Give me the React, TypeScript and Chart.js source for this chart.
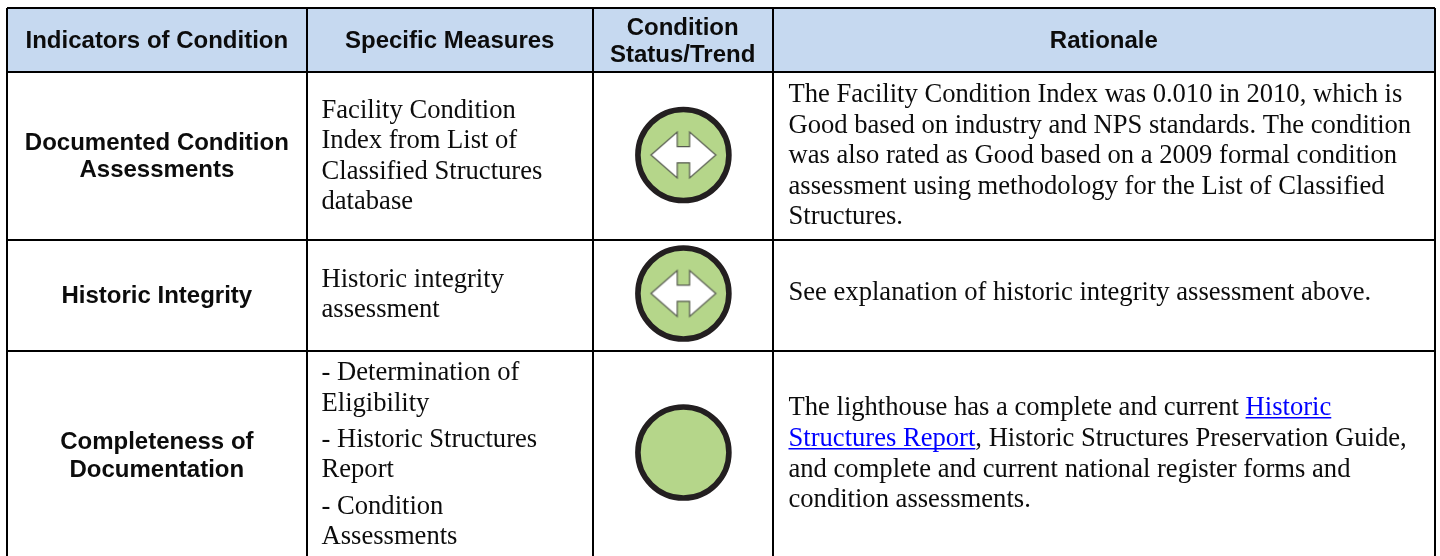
import React, { useEffect, useRef } from "react";
import { Chart, registerables } from "chart.js";

Chart.register(...registerables);

type Run = { t: string; link?: boolean };

const headers: string[][] = [
  ["Indicators of Condition"],
  ["Specific Measures"],
  ["Condition", "Status/Trend"],
  ["Rationale"],
];
const indicators: string[][] = [
  ["Documented Condition", "Assessments"],
  ["Historic Integrity"],
  ["Completeness of", "Documentation"],
];
const measures: string[][] = [
  ["Facility Condition", "Index from List of", "Classified Structures", "database"],
  ["Historic integrity", "assessment"],
  ["- Determination of", "Eligibility", "- Historic Structures", "Report", "- Condition", "Assessments"],
];
const rationale: Run[][][] = [
  [
    [{ t: "The Facility Condition Index was 0.010 in 2010, which is" }],
    [{ t: "Good based on industry and NPS standards. The condition" }],
    [{ t: "was also rated as Good based on a 2009 formal condition" }],
    [{ t: "assessment using methodology for the List of Classified" }],
    [{ t: "Structures." }],
  ],
  [[{ t: "See explanation of historic integrity assessment above." }]],
  [
    [{ t: "The lighthouse has a complete and current " }, { t: "Historic", link: true }],
    [{ t: "Structures Report", link: true }, { t: ", Historic Structures Preservation Guide," }],
    [{ t: "and complete and current national register forms and" }],
    [{ t: "condition assessments." }],
  ],
];

// table grid, in the picture's own units
const columnEdges = [7, 306.7, 592.7, 772.7, 1435];
const rowEdges = [8, 72.3, 239.6, 350.7];
const statusX = [683.4, 683.4, 683.4];
const statusY = [155, 293.5, 452.5];
const hasStableTrend = [true, true, false];

// text baselines
const headerBaselines = [[47.7], [47.7], [34.7, 61.7], [47.7]];
const indicatorBaselines = [[149.5, 177], [302.8], [449, 476.6]];
const measureBaselines = [
  [117.7, 148, 178.7, 209.2],
  [287, 317.3],
  [380.3, 410.6, 447, 477.3, 513.7, 544],
];
const rationaleBaselines = [
  [101.7, 133, 163.3, 193.6, 224],
  [300.3],
  [415, 446, 477, 507.3],
];

const BOLD = 'bold 24px "Liberation Sans"';
const SERIF = '26.6px "Liberation Serif"';
const INK = "#0c0c0c";

function makeArrow(): HTMLCanvasElement {
  const c = document.createElement("canvas");
  c.width = 72;
  c.height = 52;
  const g = c.getContext("2d")!;
  g.translate(36, 26);
  g.beginPath();
  const pts = [
    [-32.4, 0], [-6.2, -23], [-6.2, -8.4], [6.2, -8.4], [6.2, -23], [32.4, 0],
    [6.2, 23], [6.2, 7.8], [-6.2, 7.8], [-6.2, 23],
  ];
  pts.forEach(([x, y], i) => (i ? g.lineTo(x, y) : g.moveTo(x, y)));
  g.closePath();
  g.fillStyle = "#ffffff";
  g.fill();
  g.strokeStyle = "#55594f";
  g.lineWidth = 1.2;
  g.stroke();
  return c;
}

const tablePlugin = {
  id: "tablePlugin",
  beforeDatasetsDraw(chart: any) {
    const { ctx, scales } = chart;
    const x0 = scales.x.getPixelForValue(columnEdges[0]);
    const x1 = scales.x.getPixelForValue(columnEdges[4]);
    const y0 = scales.y.getPixelForValue(rowEdges[0]);
    const y1 = scales.y.getPixelForValue(rowEdges[1]);
    ctx.save();
    ctx.globalCompositeOperation = "destination-over";
    ctx.fillStyle = "#c6d9f0";
    ctx.fillRect(x0, y0, x1 - x0, y1 - y0);
    ctx.restore();
  },
  afterDraw(chart: any) {
    const { ctx, scales } = chart;
    const px = (v: number) => scales.x.getPixelForValue(v);
    const py = (v: number) => scales.y.getPixelForValue(v);
    ctx.save();
    ctx.textBaseline = "alphabetic";

    const center = (lines: string[], cx: number, ys: number[]) => {
      ctx.font = BOLD;
      ctx.fillStyle = INK;
      ctx.textAlign = "center";
      lines.forEach((l, i) => ctx.fillText(l, px(cx), py(ys[i])));
    };
    const mids = columnEdges.slice(0, -1).map((e, i) => (e + columnEdges[i + 1]) / 2);
    headers.forEach((h, i) => center(h, mids[i], headerBaselines[i]));
    indicators.forEach((l, i) => center(l, mids[0], indicatorBaselines[i]));

    ctx.textAlign = "left";
    ctx.font = SERIF;
    const left = (lines: Run[][], x: number, ys: number[]) => {
      lines.forEach((runs, i) => {
        const y = py(ys[i]);
        let cur = px(x);
        runs.forEach((r) => {
          const w = ctx.measureText(r.t).width;
          ctx.fillStyle = r.link ? "#0000ff" : INK;
          ctx.fillText(r.t, cur, y);
          if (r.link) ctx.fillRect(cur, y + 2, w, 1.5);
          cur += w;
        });
      });
    };
    measures.forEach((m, i) => left(m.map((t) => [{ t }]), 321.5, measureBaselines[i]));
    rationale.forEach((r, i) => left(r, 788.5, rationaleBaselines[i]));
    ctx.restore();
  },
};

export default function App() {
  const ref = useRef<HTMLCanvasElement>(null);
  useEffect(() => {
    document.body.style.margin = "0";
    const points = statusX.map((x, i) => ({ x, y: statusY[i] }));
    const chart = new Chart(ref.current!, {
      type: "scatter",
      data: {
        datasets: [
          {
            label: "Trend",
            order: 0,
            data: points.filter((_, i) => hasStableTrend[i]),
            pointStyle: makeArrow(),
            pointRadius: 30,
          },
          {
            label: "Condition status",
            order: 1,
            data: points,
            pointStyle: "circle",
            pointRadius: 45.5,
            pointBorderWidth: 5.6,
            pointBackgroundColor: "#b5d68a",
            pointBorderColor: "#231f20",
          },
        ],
      } as any,
      options: {
        animation: false,
        responsive: false,
        events: [],
        layout: { autoPadding: false, padding: { left: 7, top: 8, right: 5, bottom: 0 } },
        plugins: { legend: { display: false }, tooltip: { enabled: false } },
        scales: {
          x: {
            type: "linear",
            min: 7,
            max: 1435,
            afterBuildTicks: (s: any) => {
              s.ticks = columnEdges.map((value) => ({ value }));
            },
            ticks: { display: false },
            border: { display: false },
            grid: { color: "#000", lineWidth: 2, drawTicks: false },
          },
          y: {
            type: "linear",
            reverse: true,
            min: 8,
            max: 556,
            afterBuildTicks: (s: any) => {
              s.ticks = rowEdges.map((value) => ({ value }));
            },
            ticks: { display: false },
            border: { display: false },
            grid: { color: "#000", lineWidth: 2, drawTicks: false },
          },
        },
      },
      plugins: [tablePlugin],
    } as any);
    return () => chart.destroy();
  }, []);
  return (
    <canvas
      ref={ref}
      width={1440}
      height={556}
      style={{ position: "absolute", left: 0, top: 0, width: 1440, height: 556 }}
    />
  );
}
